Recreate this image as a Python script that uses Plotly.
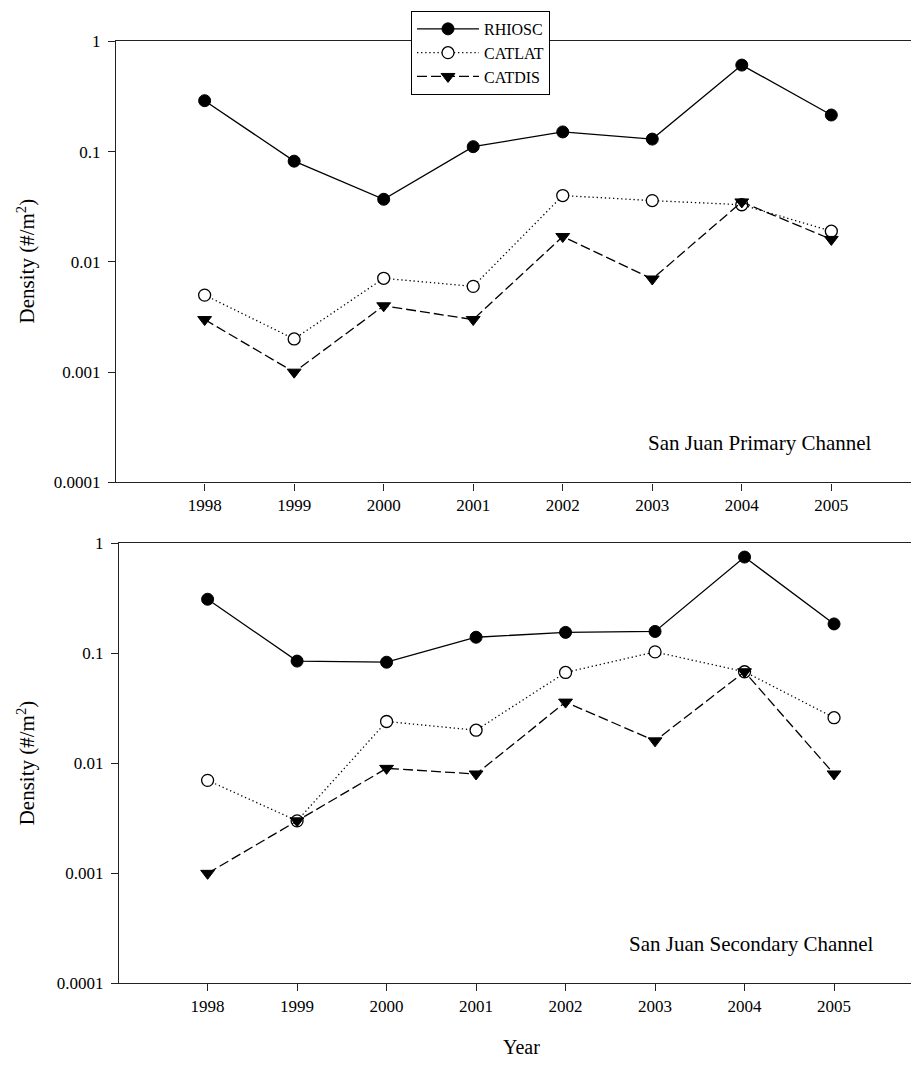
import plotly.graph_objects as go

years = [1998, 1999, 2000, 2001, 2002, 2003, 2004, 2005]

# San Juan Primary Channel
prim_rhiosc = [0.29, 0.082, 0.037, 0.111, 0.151, 0.130, 0.61, 0.215]
prim_catlat = [0.005, 0.002, 0.0071, 0.006, 0.040, 0.036, 0.033, 0.019]
prim_catdis = [0.003, 0.001, 0.004, 0.003, 0.017, 0.007, 0.035, 0.016]

# San Juan Secondary Channel
sec_rhiosc = [0.31, 0.085, 0.083, 0.14, 0.155, 0.158, 0.75, 0.185]
sec_catlat = [0.007, 0.003, 0.024, 0.020, 0.067, 0.103, 0.068, 0.026]
sec_catdis = [0.001, 0.003, 0.009, 0.008, 0.036, 0.016, 0.068, 0.008]

ytick_vals = [0.0001, 0.001, 0.01, 0.1, 1]
ytick_text = ["0.0001", "0.001", "0.01", "0.1", "1"]

FONT = "Liberation Serif, Times New Roman, serif"
W, H = 911, 1067

fig = go.Figure()

styles = {
    "RHIOSC": dict(line=dict(color="black", width=1.3, dash="solid"),
                   marker=dict(symbol="circle", size=12, color="black",
                               line=dict(color="black", width=1))),
    "CATLAT": dict(line=dict(color="black", width=1.3, dash="1.3px,2.8px"),
                   marker=dict(symbol="circle", size=12, color="white",
                               line=dict(color="black", width=1.3))),
    "CATDIS": dict(line=dict(color="black", width=1.3, dash="10px,4px"),
                   marker=dict(symbol="triangle-down", size=12, color="black",
                               line=dict(color="black", width=1))),
}

panels = [
    ("x", "y", [prim_rhiosc, prim_catlat, prim_catdis], True),
    ("x2", "y2", [sec_rhiosc, sec_catlat, sec_catdis], False),
]
names = ["RHIOSC", "CATLAT", "CATDIS"]
for xa, ya, series, show in panels:
    for name, vals in zip(names, series):
        st = styles[name]
        fig.add_trace(go.Scatter(
            x=years, y=vals, mode="lines+markers", name=name,
            legendgroup=name, showlegend=show,
            line=st["line"], marker=st["marker"], xaxis=xa, yaxis=ya,
            cliponaxis=False,
        ))

def px_x(p):
    return p / W

def px_y(p):
    return 1 - p / H

axis_common = dict(showgrid=False, zeroline=False, showline=True,
                   linecolor="#222", linewidth=1.3, ticks="outside",
                   ticklen=7, tickwidth=1, tickcolor="#222",
                   tickfont=dict(family=FONT, size=17, color="black"))

fig.update_layout(
    width=W, height=H,
    margin=dict(l=0, r=0, t=0, b=0),
    paper_bgcolor="white", plot_bgcolor="white",
    font=dict(family=FONT, color="black"),
    xaxis=dict(domain=[px_x(116), 1.0], range=[1997.01, 2005.89],
               tickvals=years, anchor="y", mirror=True, **axis_common),
    yaxis=dict(domain=[px_y(482), px_y(33)], type="log", range=[-4, 0],
               tickvals=ytick_vals, ticktext=ytick_text, anchor="x",
               ticklabelstandoff=4, **axis_common),
    xaxis2=dict(domain=[px_x(119), 1.0], range=[1997.01, 2005.86],
                tickvals=years, anchor="y2", mirror=True, **axis_common),
    yaxis2=dict(domain=[px_y(992), px_y(544)], type="log", range=[-4, 0],
                tickvals=ytick_vals, ticktext=ytick_text, anchor="x2",
                ticklabelstandoff=4, **axis_common),
    legend=dict(x=px_x(411), y=px_y(2), xanchor="left", yanchor="top",
                bgcolor="white", bordercolor="black", borderwidth=1,
                font=dict(family=FONT, size=16, color="black"),
                tracegroupgap=0, itemwidth=62),
    showlegend=True,
)

annos = [
    dict(text="San Juan Primary Channel", x=px_x(874), y=px_y(456),
         xanchor="right", yanchor="bottom", font=dict(size=21)),
    dict(text="San Juan Secondary Channel", x=px_x(876), y=px_y(966),
         xanchor="right", yanchor="bottom", font=dict(size=21)),
    dict(text="Density (#/m<sup>2</sup>)", x=px_x(26), y=px_y(257),
         xanchor="center", yanchor="middle", textangle=-90, font=dict(size=21)),
    dict(text="Density (#/m<sup>2</sup>)", x=px_x(26), y=px_y(768),
         xanchor="center", yanchor="middle", textangle=-90, font=dict(size=21)),
    dict(text="Year", x=px_x(521), y=px_y(1057),
         xanchor="center", yanchor="middle", font=dict(size=20)),
]
for a in annos:
    a.update(xref="paper", yref="paper", showarrow=False)
    a["font"].update(family=FONT, color="black")
    fig.add_annotation(**a)

fig.write_html("out.html")
